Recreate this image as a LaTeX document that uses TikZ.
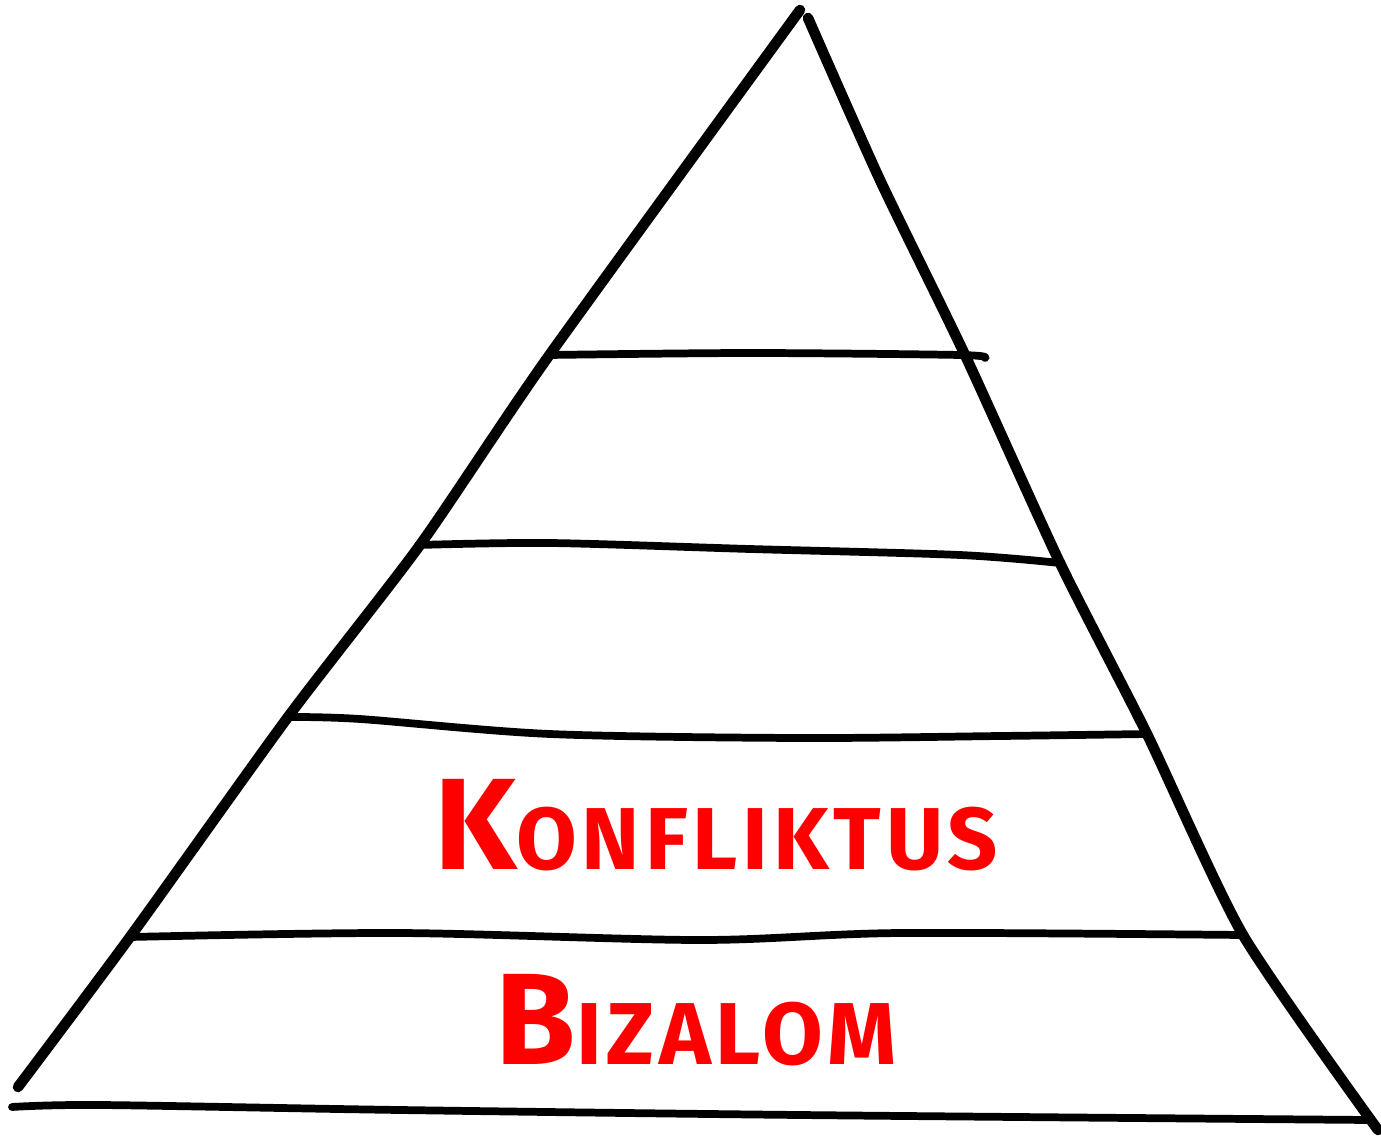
\documentclass[tikz,border=0pt]{standalone}
\usepackage{fontspec}
\newfontfamily\handfont{Fira Sans}[LetterSpace=5.5]
\usetikzlibrary{positioning}

\tikzset{
  side/.style={line width=3pt,line cap=round,line join=round},
  layer/.style={line width=2.2pt,line cap=round,line join=round},
  levellabel/.style={text=red,font=\handfont\bfseries,inner sep=0pt}
}

\begin{document}
\begin{tikzpicture}[x=0.01cm,y=-0.01cm]
  \useasboundingbox (0,0) rectangle (1381,1136);
  % pyramid sides
  \draw[side] plot[smooth,tension=0.4] coordinates {(800,10) (548,357) (420,545) (288,717) (130,937) (18,1087)};
  \draw[side] plot[smooth,tension=0.4] coordinates {(808,18) (880,180) (965,355) (1060,563) (1147,734) (1243,935) (1378,1130)};
  % layers
  \draw[layer] plot[smooth,tension=0.5] coordinates {(548,355) (750,353) (960,355) (985,358)};
  \draw[layer] plot[smooth,tension=0.5] coordinates {(418,545) (550,543) (750,549) (960,555) (1060,563)};
  \draw[layer] plot[smooth,tension=0.5] coordinates {(288,717) (360,719) (550,734) (800,738) (1000,736) (1147,734)};
  \draw[layer] plot[smooth,tension=0.5] coordinates {(130,937) (400,933) (700,940) (900,933) (1243,935)};
  \draw[layer] plot[smooth,tension=0.5] coordinates {(12,1107) (100,1105) (400,1110) (800,1115) (1370,1120)};
  % level texts
  \node[levellabel] (konfliktus) at (716,825) {\fontsize{37}{40}\selectfont K\fontsize{25}{28}\selectfont ONFLIKTUS};
  \node[levellabel] (bizalom) at (696,1020) {\fontsize{37}{40}\selectfont B\fontsize{25}{28}\selectfont IZALOM};
\end{tikzpicture}
\end{document}
